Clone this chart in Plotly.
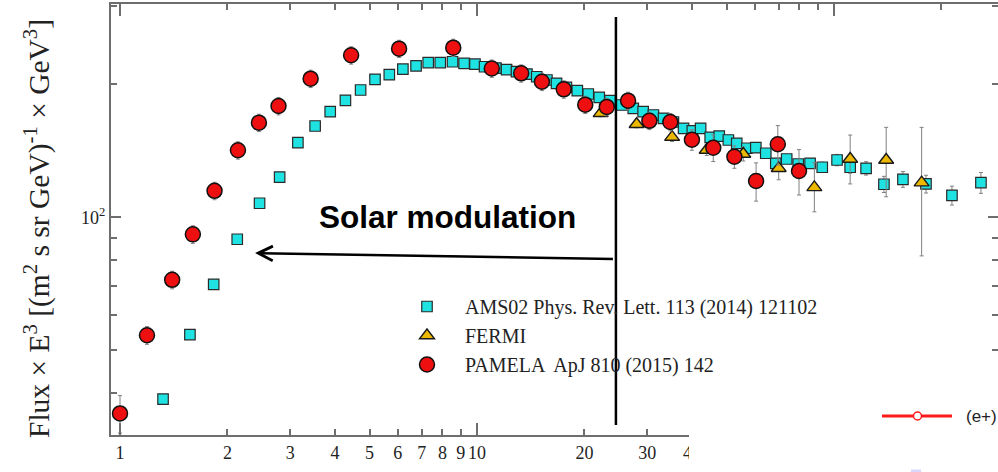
import math
import plotly.graph_objects as go

# ---------------- data: E^3-weighted all-electron flux ----------------
ams_energy = [1.32, 1.57, 1.83, 2.13, 2.46, 2.80, 3.15, 3.52, 3.88, 4.28,
              4.72, 5.18, 5.68, 6.20, 6.75, 7.30, 7.89, 8.54, 9.20, 9.87,
              10.5, 11.3, 12.1, 12.9, 13.8, 14.7, 15.7, 16.7, 17.8, 19.1,
              20.5, 22.0, 23.6, 25.4, 27.4, 29.2, 31.2, 33.3, 35.5, 37.9,
              40.1, 42.3, 45.0, 47.7, 50.6, 53.4, 57.0, 60.4, 64.4, 68.7,
              73.7, 79.4, 85.7, 92.7, 102, 111, 123, 138, 156, 181,
              214, 258]
ams_flux = [38.8, 54.3, 70.5, 89.2, 107.6, 123.3, 147.5, 160.9, 173.4, 183.9,
            194.1, 205.2, 210.2, 216.3, 220.2, 223.9, 223.9, 224.9, 223.0, 222.0,
            219.1, 217.6, 215.9, 213.7, 210.9, 208.0, 204.5, 201.0, 196.8, 193.4,
            190.1, 186.8, 183.6, 179.5, 176.4, 173.4, 170.4, 167.5, 164.3, 159.0,
            156.8, 159.0, 151.7, 152.7, 149.6, 147.0, 143.3, 143.7, 139.6, 132.5,
            135.5, 132.0, 132.5, 129.8, 134.8, 129.8, 129.1, 118.8, 121.9, 119.0,
            112.1, 119.8]
ams_err = [0.8, 1.0, 1.2, 1.5, 1.8, 2.0, 2.2, 2.4, 2.5, 2.6,
           2.7, 2.8, 2.9, 3.0, 3.0, 3.0, 3.0, 3.0, 3.0, 3.0,
           3.0, 3.0, 3.0, 3.0, 3.0, 3.0, 3.0, 3.0, 3.0, 3.0,
           3.0, 3.0, 3.0, 3.0, 3.0, 3.0, 3.0, 3.0, 3.0, 3.0,
           3.0, 3.0, 3.0, 3.0, 3.0, 3.0, 3.0, 3.0, 3.0, 3.0,
           3.0, 3.0, 3.2, 3.5, 4.0, 4.0, 4.5, 5.0, 5.0, 5.5,
           5.5, 6.5]

fermi_energy = [22.2, 28.0, 35.2, 44.0, 55.7, 70.0, 88.1, 111, 140, 176]
fermi_flux = [171.9, 162.4, 151.9, 142.0, 139.1, 129.1, 116.9, 135.5, 134.8, 119.8]
fermi_err_plus = [3.0, 3.0, 3.5, 4.0, 5.0, 7.5, 16.0, 18.0, 25.0, 40.0]
fermi_err_minus = [3.0, 3.0, 3.5, 4.0, 5.0, 7.5, 14.0, 16.5, 23.5, 38.0]

pamela_energy = [1.00, 1.19, 1.40, 1.60, 1.84, 2.14, 2.45, 2.78, 3.42, 4.44,
                 6.05, 8.58, 11.0, 13.3, 15.2, 17.5, 20.1, 23.1, 26.5, 30.4,
                 34.8, 40.0, 45.9, 52.6, 60.5, 69.6, 79.8]
pamela_flux = [36.0, 54.1, 72.2, 91.5, 114.8, 141.8, 163.7, 178.6, 205.9, 232.6,
               240.7, 242.0, 217.1, 211.7, 202.6, 194.8, 179.8, 177.7, 183.6, 165.3,
               164.3, 149.8, 143.7, 137.1, 120.8, 146.3, 127.3]
pamela_err = [3.5, 2.5, 3.3, 4.2, 5.2, 6.4, 7.4, 8.1, 9.3, 10.5,
              10.8, 10.9, 9.8, 9.5, 9.1, 8.8, 8.1, 8.0, 8.3, 7.4,
              7.4, 8.0, 10.0, 8.0, 12.0, 15.0, 15.0]

x_labelled_ticks = [1, 2, 3, 4, 5, 6, 7, 8, 9, 10, 20, 30, 40]
x_tick_text = [str(v) for v in x_labelled_ticks]
x_bottom_minor = [50, 60, 70, 80, 90, 200]
x_decades = [1, 10, 100]
x_minor = [2, 3, 4, 5, 6, 7, 8, 9, 20, 30, 40, 50, 60, 70, 80, 90, 200]
y_major = [100]
y_major_text = ["10<sup>2</sup>"]
y_minor = [40, 50, 60, 70, 80, 90, 200, 300]

modulation_cut = 24.5  # GeV

# ---------------- geometry ----------------
W, H = 998, 472
ML, MR, MT, MB = 111, 0, 4, 37
PW, PH = W - ML - MR, H - MT - MB
x_range = [-0.0252, 2.4594]
y_range = [1.5075, 2.4826]


def px(x):
    return (x - ML) / PW


def py(y):
    return (H - MB - y) / PH


SERIF = "Liberation Serif, Times New Roman, serif"
SANS = "Liberation Sans, Arial, Helvetica, sans-serif"
AXIS_GREY = "#6e6e6e"
ERR_GREY = "#808080"

fig = go.Figure()

fig.add_trace(go.Scatter(
    x=ams_energy, y=ams_flux, mode="markers", name="AMS02 Phys. Rev. Lett. 113 (2014) 121102",
    legendgroup="a",
    marker=dict(symbol="square", size=10.5, color="#1fe2e2", line=dict(color="#2a2a2a", width=1.2)),
    error_y=dict(type="data", array=ams_err, color=ERR_GREY, thickness=1, width=2),
))
fig.add_trace(go.Scatter(
    x=fermi_energy, y=fermi_flux, mode="markers", name="FERMI",
    legendgroup="b",
    marker=dict(symbol="triangle-up", size=13, color="#ecb900", line=dict(color="#1a1a1a", width=1.4)),
    error_y=dict(type="data", symmetric=False, array=fermi_err_plus, arrayminus=fermi_err_minus,
                 color=ERR_GREY, thickness=1, width=2),
))
fig.add_trace(go.Scatter(
    x=pamela_energy, y=pamela_flux, mode="markers", name="PAMELA  ApJ 810 (2015) 142",
    legendgroup="c",
    marker=dict(symbol="circle", size=15, color="#ee1010", line=dict(color="#111111", width=1.5)),
    error_y=dict(type="data", array=pamela_err, color=ERR_GREY, thickness=1, width=2),
))

# helper traces so the frame axes (top, right, long bottom ticks) get drawn
for xa, ya in (("x2", "y"), ("x3", "y"), ("x", "y2")):
    fig.add_trace(go.Scatter(x=[None], y=[None], xaxis=xa, yaxis=ya, showlegend=False,
                             hoverinfo="skip", mode="markers"))

axis_common = dict(type="log", showgrid=False, zeroline=False, ticks="inside",
                   tickcolor=AXIS_GREY, tickwidth=1.5)
minor_common = dict(ticklen=6, ticks="inside", tickcolor=AXIS_GREY, tickwidth=1.5, showgrid=False)

fig.update_layout(
    width=W, height=H,
    margin=dict(l=ML, r=MR, t=MT, b=MB, pad=0),
    paper_bgcolor="white", plot_bgcolor="white",
    showlegend=True,
    legend=dict(x=px(389), y=py(287), xanchor="left", yanchor="top",
                font=dict(family=SERIF, size=20, color="#222222"),
                bgcolor="rgba(0,0,0,0)", traceorder="grouped", tracegroupgap=0,
                itemsizing="trace", itemwidth=66),
    xaxis=dict(axis_common, range=x_range, tickvals=x_labelled_ticks, ticktext=x_tick_text,
               ticklen=6, tickangle=0, showline=True, linecolor=AXIS_GREY, linewidth=2,
               ticklabelstandoff=0,
               tickfont=dict(family=SERIF, size=18, color="#222222"),
               minor=dict(minor_common, tickvals=x_bottom_minor)),
    xaxis2=dict(axis_common, range=x_range, overlaying="x", side="top", anchor="y",
                tickvals=x_decades, ticklen=12, showticklabels=False,
                showline=True, linecolor=AXIS_GREY, linewidth=2,
                minor=dict(minor_common, tickvals=x_minor)),
    xaxis3=dict(axis_common, range=x_range, overlaying="x", side="bottom", anchor="y",
                tickvals=x_decades, ticklen=12, showticklabels=False, showline=False),
    yaxis=dict(axis_common, range=y_range, tickvals=y_major, ticktext=y_major_text,
               ticklen=10, showline=True, linecolor=AXIS_GREY, linewidth=2,
               tickfont=dict(family=SERIF, size=18, color="#222222"),
               minor=dict(minor_common, tickvals=y_minor)),
    yaxis2=dict(axis_common, range=y_range, overlaying="y", side="right", anchor="x",
                tickvals=y_major, ticklen=10, showticklabels=False, showline=False,
                minor=dict(minor_common, tickvals=y_minor)),
)

cut_frac = (math.log10(modulation_cut) - x_range[0]) / (x_range[1] - x_range[0])

shapes = [
    # energy above which solar modulation is negligible
    dict(type="line", xref="paper", yref="paper", x0=cut_frac, x1=cut_frac,
         y0=py(425), y1=py(17), line=dict(color="black", width=2.5), layer="above"),
    # white panel of the neighbouring legend box
    dict(type="rect", xref="paper", yref="paper", x0=px(689), x1=px(1005),
         y0=py(386), y1=py(480), fillcolor="white", line=dict(width=0), layer="above"),
    dict(type="line", xref="paper", yref="paper", x0=px(882), x1=px(952),
         y0=py(416), y1=py(416), line=dict(color="#ff1a1a", width=3), layer="above"),
    dict(type="circle", xref="paper", yref="paper", x0=px(913.5), x1=px(921.5),
         y0=py(420), y1=py(412), fillcolor="white", line=dict(color="#ff1a1a", width=1.5),
         layer="above"),
    dict(type="rect", xref="paper", yref="paper", x0=px(911), x1=px(921),
         y0=py(474), y1=py(469.5), fillcolor="#d8d8ff", line=dict(width=0), layer="above"),
]
fig.update_layout(shapes=shapes)

annotations = [
    dict(text="Flux \u00d7 E<sup>3</sup> [(m<sup>2</sup> s sr GeV)<sup>-1</sup> \u00d7 GeV<sup>3</sup>]",
         xref="paper", yref="paper", x=px(38), y=py(229), xanchor="center", yanchor="middle",
         textangle=-90, showarrow=False, font=dict(family=SERIF, size=29.5, color="#222222")),
    dict(text="<b>Solar modulation</b>", xref="paper", yref="paper", x=px(447.5), y=py(217),
         xanchor="center", yanchor="middle", showarrow=False,
         font=dict(family=SANS, size=31.5, color="black")),
    # arrow pointing from the cut towards low energies
    dict(text=" ", xref="x", yref="y", axref="x", ayref="y",
         x=math.log10(2.39), y=1.919, ax=math.log10(24.5), ay=1.9057,
         showarrow=True, arrowhead=5, arrowsize=1.1, arrowwidth=2.6, arrowcolor="black"),
    dict(text="(e+)", xref="paper", yref="paper", x=px(964), y=py(416), xanchor="left",
         yanchor="middle", showarrow=False, font=dict(family=SANS, size=17, color="#222222")),
    dict(text="(e-)", xref="paper", yref="paper", x=px(964), y=py(468), xanchor="left",
         yanchor="top", showarrow=False, font=dict(family=SANS, size=17, color="#222222")),
]
fig.update_layout(annotations=annotations)

fig.write_html("out.html")
